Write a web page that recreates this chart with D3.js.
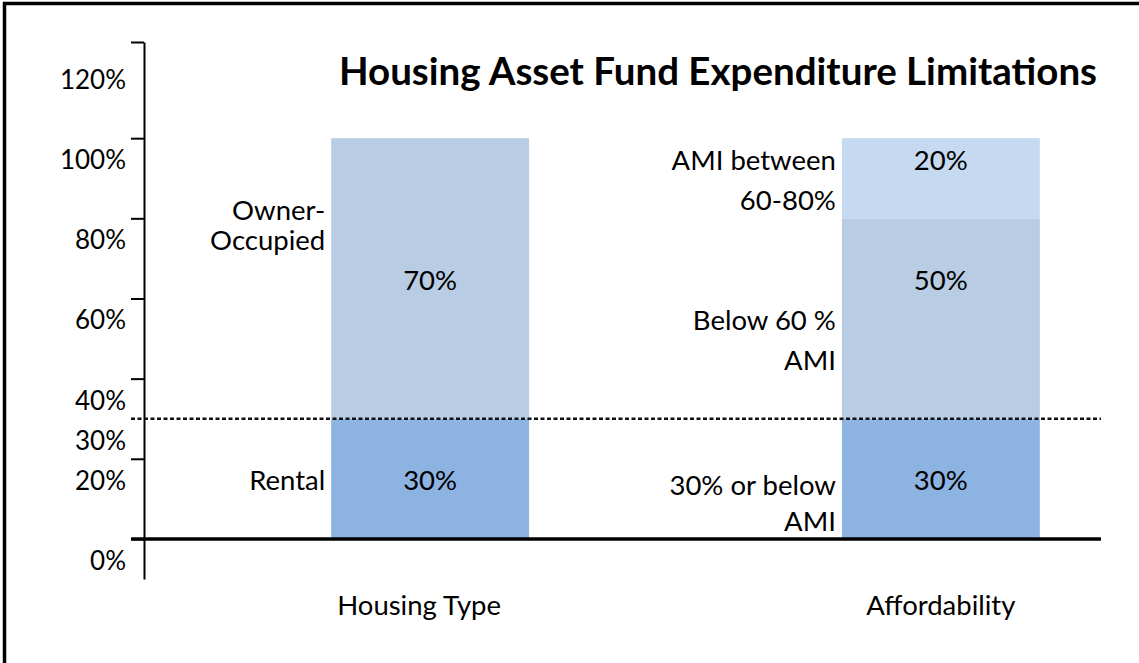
<!DOCTYPE html>
<html>
<head>
<meta charset="utf-8">
<script src="https://cdn.jsdelivr.net/npm/d3@7"></script>
<style>
  body { margin: 0; background: #fff; }
  svg { display: block; font-family: Lato, "Open Sans", sans-serif; }
</style>
</head>
<body>
<div id="chart"></div>
<script>
// Chart data
const categories = ["Housing Type", "Affordability"];
const housingTypeNames = [["Rental"], ["Owner-", "Occupied"]];
const housingTypeValues = [30, 70];
const affordabilityNames = [["30% or below", "AMI"], ["Below 60 %", "AMI"], ["AMI between", "60-80%"]];
const affordabilityValues = [30, 50, 20];
const tickValues = [0, 20, 40, 60, 80, 100];
const tickLabels = [0, 20, 30, 40, 60, 80, 100, 120];
const thresholdValue = 30;

// Styling / layout
const segColors = [["#8DB3E2", "#B8CCE4"], ["#8DB3E2", "#B8CCE4", "#C5D9F1"]];
// where text sits, in axis units (baseline of first line)
const valueLabelAt = [[12.2, 62.1], [12.2, 62.1, 92]];
const nameLabelAt = [[12.2, 79.6], [11, 52.1, 92]];
const nameLineGap = [[30, 30], [36, 40, 40]];
const catLabelShift = [-11, 0];
const labelSize = "27.5px";

const width = 1139, height = 663;

const svg = d3.select("#chart")
    .append("svg")
    .attr("width", width)
    .attr("height", height);

// frame (only left and top edges show)
svg.append("rect")
    .attr("x", 4.5).attr("y", 3.5)
    .attr("width", 1300).attr("height", 800)
    .attr("fill", "none")
    .attr("stroke", "#000")
    .attr("stroke-width", 3.5);

const y = d3.scaleLinear()
    .domain([-10, 124])
    .range([579, 42]);

const x = d3.scaleBand()
    .domain(categories)
    .range([178, 1193])
    .paddingInner(0.6125)
    .paddingOuter(0.3);

const axisX = 144;

// build stacked segments
const series = [
    { names: housingTypeNames, values: housingTypeValues },
    { names: affordabilityNames, values: affordabilityValues }
];
const segments = [];
series.forEach((s, i) => {
    let base = 0;
    s.values.forEach((v, j) => {
        segments.push({
            cat: categories[i], i, j, y0: base, y1: base + v, value: v,
            names: s.names[j]
        });
        base += v;
    });
});

svg.append("g")
    .selectAll("rect")
    .data(segments)
    .enter()
    .append("rect")
    .attr("x", d => x(d.cat))
    .attr("y", d => y(d.y1))
    .attr("width", x.bandwidth())
    .attr("height", d => y(d.y0) - y(d.y1))
    .attr("fill", d => segColors[d.i][d.j]);

// y axis (ticks only)
const yAxis = svg.append("g")
    .attr("transform", `translate(${axisX},0)`)
    .call(d3.axisLeft(y)
        .tickValues(tickValues.concat([y.domain()[1]]))
        .tickSize(13)
        .tickSizeOuter(0)
        .tickFormat(""));
yAxis.select(".domain").attr("stroke", "#000").attr("stroke-width", 2);
yAxis.selectAll(".tick line").attr("stroke", "#000").attr("stroke-width", 2);

// tick labels sit below their ticks
svg.append("g")
    .selectAll("text")
    .data(tickLabels)
    .enter()
    .append("text")
    .attr("x", 126)
    .attr("y", d => y(d) + 31)
    .attr("text-anchor", "end")
    .style("font-size", "26px")
    .text(d => d + "%");

// zero line
svg.append("line")
    .attr("x1", 131).attr("x2", 1101)
    .attr("y1", y(0)).attr("y2", y(0))
    .attr("stroke", "#000")
    .attr("stroke-width", 3.5);

// 30% threshold
svg.append("line")
    .attr("x1", 131).attr("x2", 1101)
    .attr("y1", y(thresholdValue)).attr("y2", y(thresholdValue))
    .attr("stroke", "#111")
    .attr("stroke-width", 2.5)
    .attr("stroke-dasharray", "4,2.5");

// value labels inside bars
svg.append("g")
    .selectAll("text")
    .data(segments)
    .enter()
    .append("text")
    .attr("x", d => x(d.cat) + x.bandwidth() / 2)
    .attr("y", d => y(valueLabelAt[d.i][d.j]))
    .attr("text-anchor", "middle")
    .style("font-size", labelSize)
    .text(d => d.value + "%");

// segment names left of bars
const names = svg.append("g")
    .selectAll("text")
    .data(segments)
    .enter()
    .append("text")
    .attr("text-anchor", "end")
    .style("font-size", labelSize);
names.each(function(d) {
    const t = d3.select(this);
    d.names.forEach((line, k) => {
        t.append("tspan")
            .attr("x", x(d.cat) - 6)
            .attr("y", y(nameLabelAt[d.i][d.j]) + k * nameLineGap[d.i][d.j])
            .text(line);
    });
});

// category labels
svg.append("g")
    .selectAll("text")
    .data(categories)
    .enter()
    .append("text")
    .attr("x", (d, i) => x(d) + x.bandwidth() / 2 + catLabelShift[i])
    .attr("y", 615)
    .attr("text-anchor", "middle")
    .style("font-size", labelSize)
    .text(d => d);

// title
svg.append("text")
    .attr("x", 718)
    .attr("y", 85)
    .attr("text-anchor", "middle")
    .style("font-size", "38.5px")
    .style("font-weight", "bold")
    .text("Housing Asset Fund Expenditure Limitations");
</script>
</body>
</html>
